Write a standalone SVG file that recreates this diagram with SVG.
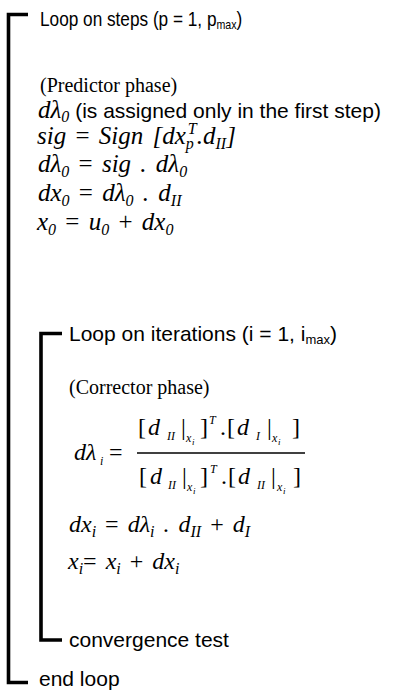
<svg xmlns="http://www.w3.org/2000/svg" width="398" height="691" viewBox="0 0 398 691">
<style>
.ar{font-family:"Liberation Sans",Arial,sans-serif;font-size:21px;fill:#000;font-style:normal;word-spacing:0}
.tr{font-family:"Liberation Serif","Times New Roman",serif;font-size:20px;fill:#000}
.m{font-family:"Liberation Serif","Times New Roman",serif;font-size:25px;font-style:italic;fill:#000;word-spacing:3px}
.m2{font-family:"Liberation Serif","Times New Roman",serif;font-size:24px;font-style:italic;fill:#000;word-spacing:3px}
.f{font-family:"Liberation Serif","Times New Roman",serif;font-size:24px;font-style:italic;fill:#000}
.n{font-style:normal}
.s{font-size:16px}
.ss{font-size:12px}
.sss{font-size:9px}
.br{fill:none;stroke:#000;stroke-width:3.6;stroke-linejoin:miter;stroke-linecap:butt}
</style>
<rect width="398" height="691" fill="#fff"/>
<g id="connectors">
  <path class="br" d="M28,14.5 H8.5 V682.5 H28"/>
  <path class="br" d="M62,333.5 H41 V640 H62"/>
  <line x1="137" y1="453" x2="305" y2="453" stroke="#000" stroke-width="1.3"/>
</g>
<g id="outer-loop-header">
  <text class="ar" transform="translate(40,26) scale(0.82,1)">Loop on steps (p = 1, p<tspan font-size="13" dy="3">max</tspan><tspan dy="-3">)</tspan></text>
</g>
<g id="predictor">
  <text class="tr" x="40" y="92">(Predictor phase)</text>
  <text class="m" x="38" y="118">dλ<tspan class="s" dy="4">0</tspan><tspan class="ar" dy="-4"> (is assigned only in the first step)</tspan></text>
  <text class="m" x="37" y="144">sig <tspan class="n">=</tspan> Sign [dx<tspan class="s" dy="5">p</tspan><tspan class="s" dx="-6" dy="-15">T</tspan><tspan dy="10">.d</tspan><tspan class="s" dy="5">II</tspan><tspan dy="-5">]</tspan></text>
  <text class="m" x="38" y="172">dλ<tspan class="s" dy="5">0</tspan><tspan class="n" dy="-5"> = </tspan>sig . dλ<tspan class="s" dy="5">0</tspan></text>
  <text class="m" x="38" y="201">dx<tspan class="s" dy="5">0</tspan><tspan class="n" dy="-5"> = </tspan>dλ<tspan class="s" dy="5">0</tspan><tspan dy="-5"> . d</tspan><tspan class="s" dy="5">II</tspan></text>
  <text class="m" x="37" y="230">x<tspan class="s" dy="5">0</tspan><tspan class="n" dy="-5"> = </tspan>u<tspan class="s" dy="5">0</tspan><tspan class="n" dy="-5"> + </tspan>dx<tspan class="s" dy="5">0</tspan></text>
</g>
<g id="inner-loop-header">
  <text class="ar" x="69" y="341">Loop on iterations (i = 1, i<tspan font-size="13" dy="3">max</tspan><tspan dy="-3">)</tspan></text>
</g>
<g id="corrector">
  <text class="tr" x="69" y="394">(Corrector phase)</text>
  <g id="fraction">
    <text class="f" x="74" y="460">dλ</text>
    <text class="f ss" x="100" y="465">i</text>
    <text class="f n" x="109" y="460">=</text>
    <text class="f n" x="138" y="435">[</text>
    <text class="f" x="148" y="435">d</text>
    <text class="f ss" x="167" y="440">II</text>
    <text class="f n" x="181" y="435">|</text>
    <text class="f ss" x="186" y="442">x</text>
    <text class="f sss" x="192" y="445">i</text>
    <text class="f n" x="200" y="435">]</text>
    <text class="f ss" x="209" y="424">T</text>
    <text class="f n" x="220" y="435">.</text>
    <text class="f n" x="227" y="435">[</text>
    <text class="f" x="237" y="435">d</text>
    <text class="f ss" x="256" y="440">I</text>
    <text class="f n" x="267" y="435">|</text>
    <text class="f ss" x="272" y="442">x</text>
    <text class="f sss" x="278" y="445">i</text>
    <text class="f n" x="292" y="435">]</text>
    <text class="f n" x="139" y="484">[</text>
    <text class="f" x="150" y="484">d</text>
    <text class="f ss" x="168" y="489">II</text>
    <text class="f n" x="182" y="484">|</text>
    <text class="f ss" x="187" y="491">x</text>
    <text class="f sss" x="193" y="494">i</text>
    <text class="f n" x="200" y="484">]</text>
    <text class="f ss" x="210" y="473">T</text>
    <text class="f n" x="221" y="484">.</text>
    <text class="f n" x="228" y="484">[</text>
    <text class="f" x="238" y="484">d</text>
    <text class="f ss" x="257" y="489">II</text>
    <text class="f n" x="271" y="484">|</text>
    <text class="f ss" x="277" y="491">x</text>
    <text class="f sss" x="283" y="494">i</text>
    <text class="f n" x="293" y="484">]</text>
  </g>
  <text class="m2" x="69" y="532">dx<tspan class="s" dy="5">i</tspan><tspan class="n" dy="-5"> = </tspan>dλ<tspan class="s" dy="5">i</tspan><tspan dy="-5"> . d</tspan><tspan class="s" dy="5">II</tspan><tspan class="n" dy="-5"> + </tspan>d<tspan class="s" dy="5">I</tspan></text>
  <text class="m2" x="68" y="569">x<tspan class="s" dy="5">i</tspan><tspan class="n" dy="-5">= </tspan>x<tspan class="s" dy="5">i</tspan><tspan class="n" dy="-5"> + </tspan>dx<tspan class="s" dy="5">i</tspan></text>
</g>
<g id="inner-loop-end">
  <text class="ar" x="69" y="647">convergence test</text>
</g>
<g id="outer-loop-end">
  <text class="ar" x="39" y="686">end loop</text>
</g>
</svg>
